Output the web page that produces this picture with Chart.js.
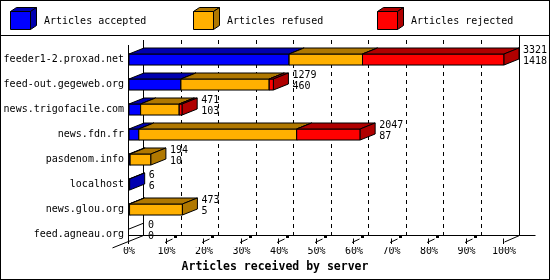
<!DOCTYPE html>
<html><head><meta charset="utf-8">
<script src="https://cdn.jsdelivr.net/npm/chart.js@4/dist/chart.umd.min.js"></script>
<style>html,body{margin:0;padding:0;background:#fff;}canvas{display:block;}</style>
</head><body>
<div style="width:550px;height:280px;position:relative"><canvas id="c" width="550" height="280"></canvas></div>
<script>
const categories = ['feeder1-2.proxad.net','feed-out.gegeweb.org','news.trigofacile.com','news.fdn.fr','pasdenom.info','localhost','news.glou.org','feed.agneau.org'];
const totals   = [3321, 1279, 471, 2047, 194, 6, 473, 0];
const accepted = [1418,  460, 103,   87,  10, 6,   5, 0];
const refused  = [ 650,  782, 342, 1398, 184, 0, 468, 0];
const rejected = [1253,   37,  26,  562,   0, 0,   0, 0];
const tickPercents = [0,10,20,30,40,50,60,70,80,90,100];
const seriesNames = ['Articles accepted','Articles refused','Articles rejected'];
const axisTitle = 'Articles received by server';

const FRONT = ['#0000ff','#ffb000','#ff0000'];
const DARK  = ['#0000b0','#b07800','#b00000'];
const DX = 15, DY = -6;
const FAM = '"DejaVu Sans Mono", monospace';
const FONT = '10px ' + FAM;
const xMax = Math.max(...totals);

function poly(ctx, pts, fill) {
  ctx.beginPath();
  ctx.moveTo(pts[0][0], pts[0][1]);
  for (let i = 1; i < pts.length; i++) ctx.lineTo(pts[i][0], pts[i][1]);
  ctx.closePath();
  if (fill) { ctx.fillStyle = fill; ctx.fill(); }
  ctx.strokeStyle = '#000'; ctx.lineWidth = 1; ctx.stroke();
}

const bars3d = {
  id: 'bars3d',
  beforeDatasetsDraw(chart) {
    const ctx = chart.ctx, ca = chart.chartArea, xs = chart.scales.x;
    const px = p => xs.getPixelForValue(p / 100 * xMax);
    const floorFront = ca.bottom - 5.5, floorBack = floorFront + DY;
    const topBack = ca.top + DY - 1;
    ctx.save();
    ctx.strokeStyle = '#000'; ctx.lineWidth = 1;
    ctx.setLineDash([4, 4]);
    for (const p of tickPercents) {
      if (p === 0 || p === 100) continue;
      const x = Math.round(px(p) + DX) - 0.5;
      ctx.beginPath(); ctx.moveTo(x, topBack); ctx.lineTo(x, floorBack); ctx.stroke();
    }
    ctx.setLineDash([]);
    const xl = Math.round(px(0)) - 0.5, xr = Math.round(px(100)) + 0.5;
    ctx.beginPath();
    ctx.moveTo(xl + DX, topBack); ctx.lineTo(xl + DX, floorBack);
    ctx.moveTo(xr + DX, 36); ctx.lineTo(xr + DX, floorBack);
    ctx.moveTo(xl, ca.top - 2); ctx.lineTo(xl, floorFront);
    ctx.moveTo(xl, floorBack); ctx.lineTo(xr + DX + 16, floorBack);
    ctx.moveTo(xl - 16, floorFront + 16 * (-DY) / DX);
    ctx.lineTo(xl + DX, floorBack);
    ctx.moveTo(xr, floorFront + 0.5); ctx.lineTo(xr + DX, floorBack);
    ctx.stroke();
    for (const p of tickPercents) {
      const x = Math.round(px(p)) - 0.5;
      ctx.beginPath(); ctx.moveTo(x, floorFront - 3); ctx.lineTo(x, floorFront + 2.5); ctx.stroke();
      if (p !== 0 && p !== 100) {
        ctx.beginPath(); ctx.moveTo(x - 1.5, floorFront + 1); ctx.lineTo(x + 6, floorFront - 2.5); ctx.stroke();
        ctx.fillStyle = '#000'; ctx.fillRect(x + 7.5, floorBack, 3, 2.5);
      }
    }
    ctx.restore();
  },
  afterDatasetsDraw(chart) {
    const ctx = chart.ctx;
    const metas = [0, 1, 2].map(i => chart.getDatasetMeta(i));
    ctx.save();
    for (let r = 0; r < categories.length; r++) {
      let lastR = null, yc = null, T = null, B = null;
      for (let d = 0; d < 3; d++) {
        const el = metas[d].data[r];
        const pr = el.getProps(['x', 'base', 'y', 'height'], true);
        const L = Math.min(pr.x, pr.base), R = Math.max(pr.x, pr.base);
        T = pr.y - pr.height / 2; B = pr.y + pr.height / 2; yc = pr.y;
        if (lastR === null) lastR = L;
        const v = chart.data.datasets[d].data[r];
        if (!v) continue;
        poly(ctx, [[L, T], [R, T], [R, B], [L, B]], FRONT[d]);
        poly(ctx, [[L, T], [R, T], [R + DX, T + DY], [L + DX, T + DY]], DARK[d]);
        poly(ctx, [[R, T], [R + DX, T + DY], [R + DX, B + DY], [R, B]], DARK[d]);
        lastR = R;
      }
      if (!totals[r]) {
        ctx.strokeStyle = '#000'; ctx.lineWidth = 1;
        ctx.beginPath(); ctx.moveTo(lastR, T); ctx.lineTo(lastR + DX, T + DY); ctx.stroke();
      }
      ctx.fillStyle = '#000'; ctx.font = FONT; ctx.textAlign = 'left'; ctx.textBaseline = 'middle';
      const tx = lastR + DX + 4;
      ctx.fillText(String(totals[r]), tx, yc - 9.5);
      ctx.fillText(String(accepted[r]), tx, yc + 1.5);
    }
    ctx.restore();
  },
  afterDraw(chart) {
    const ctx = chart.ctx;
    ctx.save();
    ctx.strokeStyle = '#000'; ctx.lineWidth = 1;
    ctx.strokeRect(0.5, 0.5, 549, 279);
    ctx.beginPath(); ctx.moveTo(0, 35.5); ctx.lineTo(550, 35.5); ctx.stroke();
    const boxX = [10, 193, 377];
    for (let i = 0; i < 3; i++) {
      const x = boxX[i] + 0.5, y = 11.5, w = 20, h = 18, dx = 6, dy = -4;
      poly(ctx, [[x, y], [x + w, y], [x + w + dx, y + dy], [x + dx, y + dy]], DARK[i]);
      poly(ctx, [[x + w, y], [x + w + dx, y + dy], [x + w + dx, y + h + dy], [x + w, y + h]], DARK[i]);
      poly(ctx, [[x, y], [x + w, y], [x + w, y + h], [x, y + h]], FRONT[i]);
      ctx.fillStyle = '#000'; ctx.font = FONT; ctx.textAlign = 'left'; ctx.textBaseline = 'middle';
      ctx.fillText(seriesNames[i], boxX[i] + 34, 21);
    }
    ctx.restore();
  }
};

new Chart(document.getElementById('c'), {
  type: 'bar',
  data: {
    labels: categories,
    datasets: [
      { label: seriesNames[0], data: accepted, backgroundColor: FRONT[0] },
      { label: seriesNames[1], data: refused,  backgroundColor: FRONT[1] },
      { label: seriesNames[2], data: rejected, backgroundColor: FRONT[2] }
    ].map(d => Object.assign(d, { borderColor: '#000', borderWidth: 1, borderSkipped: false, barThickness: 11 }))
  },
  options: {
    indexAxis: 'y',
    responsive: false,
    animation: false,
    devicePixelRatio: 1,
    layout: { padding: { top: 47, right: 0, left: 0, bottom: 0 } },
    plugins: {
      legend: { display: false },
      tooltip: { enabled: false },
      title: { display: true, text: axisTitle, position: 'bottom', color: '#000',
               font: { family: FAM, size: 11.5, weight: 'bold', lineHeight: 1.2 },
               padding: { top: 0, bottom: 6 } }
    },
    scales: {
      x: {
        type: 'linear', stacked: true, min: 0, max: xMax,
        afterBuildTicks: s => { s.ticks = tickPercents.map(p => ({ value: p / 100 * xMax })); },
        ticks: { callback: v => Math.round(v / xMax * 100) + '%', font: { family: FAM, size: 10 }, color: '#000',
                 padding: -2, maxRotation: 0, autoSkip: false },
        grid: { display: false, drawTicks: false },
        border: { display: false },
        afterFit: s => { s.height = 13.2; }
      },
      y: {
        type: 'category', stacked: true, offset: true,
        grid: { display: false, drawTicks: false },
        border: { display: false },
        ticks: { font: { family: FAM, size: 10 }, color: '#000', padding: 5, autoSkip: false },
        afterFit: s => { s.width = 129; }
      },
      yRightSpace: {
        type: 'category', position: 'right', offset: true,
        grid: { display: false, drawTicks: false },
        border: { display: false },
        ticks: { display: false },
        afterFit: s => { s.width = 46; }
      }
    }
  },
  plugins: [bars3d]
});
</script>
</body></html>
